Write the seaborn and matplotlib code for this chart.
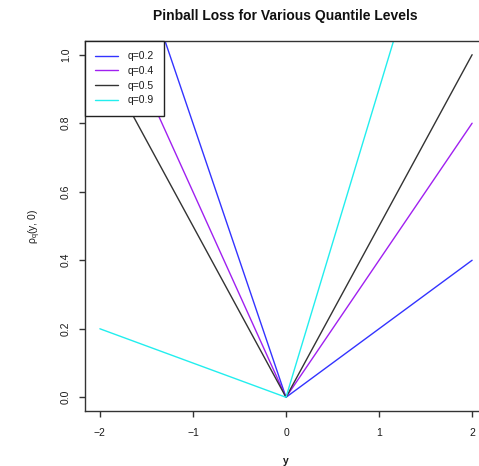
import matplotlib
matplotlib.use("Agg")
import matplotlib.pyplot as plt
import seaborn as sns
import pandas as pd

# Data
y_points = [-2.0, 0.0, 2.0]
q_labels = ["q=0.2", "q=0.4", "q=0.5", "q=0.9"]
loss_q02 = [1.6, 0.0, 0.4]
loss_q04 = [1.2, 0.0, 0.8]
loss_q05 = [1.0, 0.0, 1.0]
loss_q09 = [0.2, 0.0, 1.8]
line_colors = ["#3333ff", "#a020f0", "#333333", "#22eeee"]
x_ticks = [-2, -1, 0, 1, 2]
y_ticks = [0.0, 0.2, 0.4, 0.6, 0.8, 1.0]

series = [loss_q02, loss_q04, loss_q05, loss_q09]
df = pd.DataFrame({
    "y": y_points * len(q_labels),
    "loss": [v for s in series for v in s],
    "q": [lab for lab in q_labels for _ in y_points],
})

sns.set_style("white")
plt.rcParams["font.family"] = ["Liberation Sans", "DejaVu Sans"]
plt.rcParams["mathtext.fontset"] = "custom"
plt.rcParams["mathtext.rm"] = "Liberation Sans"
plt.rcParams["mathtext.it"] = "Liberation Sans"

fig = plt.figure(figsize=(4.79, 4.66), dpi=100)
ax = fig.add_axes([85 / 479, 1 - 411 / 466, (487 - 85) / 479, (411 - 41) / 466])

sns.lineplot(data=df, x="y", y="loss", hue="q", palette=line_colors,
             hue_order=q_labels, ax=ax, linewidth=1.0, sort=False,
             estimator=None)

ax.set_xlim(-2.16, 2.16)
ax.set_ylim(-0.04, 1.04)
ax.set_xticks(x_ticks)
ax.set_xticklabels([("\u2212" if t < 0 else "") + str(abs(t)) for t in x_ticks])
ax.set_yticks(y_ticks)
ax.set_yticklabels([f"{t:.1f}" for t in y_ticks], rotation=90, va="center")

for s in ax.spines.values():
    s.set_color("#333333")
    s.set_linewidth(1.0)

ax.tick_params(axis="both", which="both", direction="out", length=4,
               width=1, color="#333333", labelsize=7.5, labelcolor="#1a1a1a",
               left=True, bottom=True)
ax.tick_params(axis="x", pad=8)
ax.tick_params(axis="y", pad=6)

ax.set_xlabel("y", fontsize=7.5, fontweight="bold", color="#1a1a1a", labelpad=13)
ax.set_ylabel("\u03c1$_q$(y, 0)", fontsize=7.5, color="#1a1a1a", labelpad=13)
ax.set_title("Pinball Loss for Various Quantile Levels", fontsize=10,
             fontweight="bold", color="#111111", pad=15,
             x=(285 - 85) / (487 - 85))

leg = ax.legend(loc="upper left", frameon=True, fontsize=7.5, fancybox=False,
                borderaxespad=0, handlelength=2.2, handletextpad=0.9,
                labelspacing=0.45, borderpad=1.0)
leg.get_frame().set_edgecolor("#222222")
leg.get_frame().set_linewidth(1.0)
leg.get_frame().set_alpha(1)
for t in leg.get_texts():
    t.set_color("#1a1a1a")

fig.savefig("out.png", dpi=100)
